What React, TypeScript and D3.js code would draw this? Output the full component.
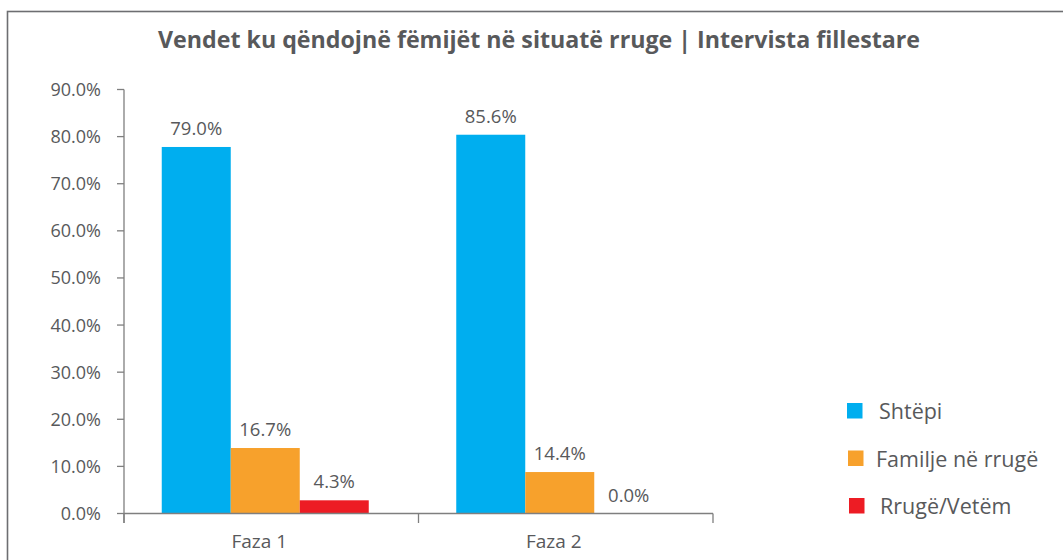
import React from "react";
import * as d3 from "d3";

const title = "Vendet ku qëndojnë fëmijët në situatë rruge | Intervista fillestare";
const categories = ["Faza 1", "Faza 2"];
const seriesNames = ["Shtëpi", "Familje në rrugë", "Rrugë/Vetëm"];
const seriesColors = ["#00aeef", "#f7a12c", "#ed1c24"];
// bar heights as drawn in the picture
const shtepiValues = [77.8, 80.4];
const familjeValues = [13.9, 8.8];
const rrugeValues = [2.8, 0];
// printed data labels
const shtepiLabels = ["79.0%", "85.6%"];
const familjeLabels = ["16.7%", "14.4%"];
const rrugeLabels = ["4.3%", "0.0%"];
const yTicks = [0, 10, 20, 30, 40, 50, 60, 70, 80, 90];

const W = 1063;
const H = 560;
const FONT = "'Open Sans', 'Noto Sans', sans-serif";
const TEXT = "#58595b";
const AXIS = "#7f7f7f";

export default function App() {
  const values = [shtepiValues, familjeValues, rrugeValues];
  const labels = [shtepiLabels, familjeLabels, rrugeLabels];

  const x0 = 124, x1 = 713;
  const y = d3.scaleLinear().domain([0, 90]).range([513.5, 89.5]);
  const xBand = d3.scaleBand<string>().domain(categories).range([x0, x1]).paddingInner(0).paddingOuter(0);
  const groupW = 207;
  const sub = d3.scaleBand<string>().domain(seriesNames).range([0, groupW]).padding(0);
  const groupStart = (c: string) => (xBand(c) as number) + (xBand.bandwidth() - groupW) / 2 - 6;

  const base = y(0);
  const catTicks = [x0, (x0 + x1) / 2, x1];

  return (
    <svg width={W} height={H} style={{ position: "absolute", left: 0, top: 0 }} fontFamily={FONT}>
      <rect x={0} y={0} width={W} height={H} fill="#fff" />
      <rect x={7.5} y={11.5} width={1200} height={700} fill="none" stroke="#6d6e71" strokeWidth={1.6} />
      <text x={158} y={48} fontSize={24} fontWeight={700} fill={TEXT} textLength={762} lengthAdjust="spacingAndGlyphs">
        {title}
      </text>

      {/* y axis */}
      <line x1={x0} x2={x0} y1={y(90)} y2={523} stroke={AXIS} strokeWidth={1.3} />
      {yTicks.map((t) => (
        <g key={t}>
          <line x1={117} x2={x0} y1={y(t)} y2={y(t)} stroke={AXIS} strokeWidth={1.3} />
          <text x={101} y={y(t)} dy="0.36em" textAnchor="end" fontSize={18} fill={TEXT}>
            {d3.format(".1f")(t) + "%"}
          </text>
        </g>
      ))}

      {/* bars */}
      {categories.map((c, ci) => (
        <g key={c}>
          {seriesNames.map((s, si) => {
            const v = values[si][ci];
            const bx = groupStart(c) + (sub(s) as number);
            const by = y(v);
            return (
              <g key={s}>
                <rect x={bx} y={by} width={sub.bandwidth()} height={base - by} fill={seriesColors[si]} />
                <text x={bx + sub.bandwidth() / 2} y={by - 12} textAnchor="middle" fontSize={18.5} fill={TEXT}>
                  {labels[si][ci]}
                </text>
              </g>
            );
          })}
          <text x={groupStart(c) + groupW / 2 - 6} y={548} textAnchor="middle" fontSize={19} fill={TEXT}>
            {c}
          </text>
        </g>
      ))}

      {/* x axis */}
      <line x1={x0} x2={x1} y1={base} y2={base} stroke={AXIS} strokeWidth={1.3} />
      {catTicks.map((t, i) => (
        <line key={i} x1={t} x2={t} y1={base} y2={523} stroke={AXIS} strokeWidth={1.3} />
      ))}

      {/* legend */}
      {seriesNames.map((s, i) => {
        const ly = 403 + i * 47.5;
        return (
          <g key={s}>
            <rect x={847 + i} y={ly} width={15.5} height={15.5} fill={seriesColors[i]} />
            <text x={[879, 876, 880][i]} y={ly + 16} fontSize={21.5} fill={TEXT}>
              {s}
            </text>
          </g>
        );
      })}
    </svg>
  );
}
